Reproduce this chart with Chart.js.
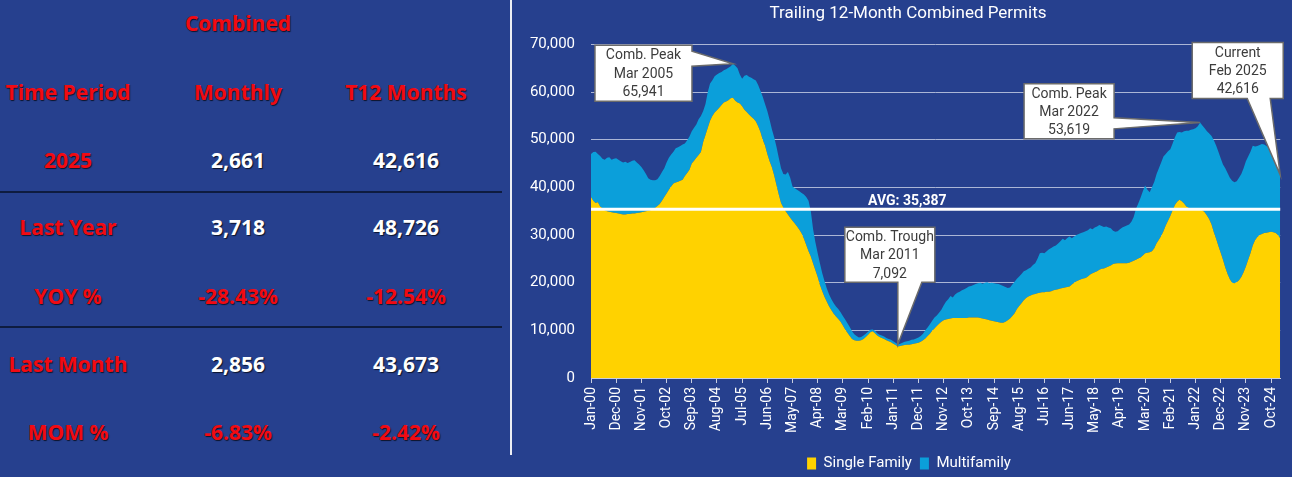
<!DOCTYPE html>
<html><head><meta charset="utf-8">
<script src="https://cdn.jsdelivr.net/npm/chart.js@4.4.1/dist/chart.umd.min.js"></script>
<style>
html,body{margin:0;padding:0;background:#26408E;width:1292px;height:477px;overflow:hidden;}
#left{position:absolute;left:0;top:0;width:510px;height:477px;font-family:'Open Sans',sans-serif;font-weight:700;}
.t{position:absolute;width:240px;text-align:center;font-size:21px;line-height:28px;text-shadow:1px 1px 1px rgba(0,0,0,.7);white-space:nowrap;}
.red{color:#F20A12;}
.white{color:#fff;}
.hline{position:absolute;left:0;width:502px;height:2px;background:#0E1C40;}
#vline{position:absolute;left:510px;top:0;width:2px;height:455px;background:#ECEEF4;}
#chartBox{position:absolute;left:512px;top:0;width:780px;height:477px;}
</style></head>
<body>
<div id="left"></div>
<div id="vline"></div>
<div id="chartBox"><canvas id="c"></canvas></div>
<script>
// ---------- data ----------
const tableTitle = 'Combined';
const tableHeaders = ['Time Period', 'Monthly', 'T12 Months'];
const tablePeriods = ['2025', 'Last Year', 'YOY %', 'Last Month', 'MOM %'];
const tableMonthly = ['2,661', '3,718', '-28.43%', '2,856', '-6.83%'];
const tableT12 = ['42,616', '48,726', '-12.54%', '43,673', '-2.42%'];

const chartTitle = 'Trailing 12-Month Combined Permits';
const monthNames = ['Jan','Feb','Mar','Apr','May','Jun','Jul','Aug','Sep','Oct','Nov','Dec'];
const startYear = 2000;
const tickEvery = 11;
const averageValue = 35387;
const avgLabel = 'AVG: ';

const singleFamily = [
38000,37200,36700,36900,36000,35600,35200,35000,34900,34800,34700,34600,
34500,34400,34300,34300,34400,34400,34500,34500,34600,34700,34800,34900,
35000,35100,35200,35400,35700,36100,36500,37200,38000,38700,39500,40200,
40800,41000,41200,41400,41600,42400,43000,43700,45000,45600,46200,46800,
47400,49500,51000,52500,54000,55000,55700,56200,56700,57300,57800,58000,
58300,58700,58800,58200,57800,57600,57000,56300,55800,55300,54800,54400,
53800,52800,51600,50000,48800,47000,45500,44200,42500,40500,38500,36700,
35800,35000,34300,33600,33000,32400,31800,31100,30300,29200,27900,26600,
25500,24000,22600,21200,19500,18200,17000,16000,15000,14200,13500,12900,
12400,11800,11000,10200,9500,8800,8200,7900,7800,7800,7900,8200,
8600,9100,9600,9800,9400,8900,8600,8400,8200,7900,7700,7500,
7200,6900,6600,6700,6800,6900,7000,7000,7100,7200,7300,7400,
7600,7900,8300,8800,9300,9900,10400,10900,11400,11800,12100,12300,
12400,12500,12600,12600,12600,12600,12600,12600,12600,12700,12700,12700,
12700,12700,12600,12500,12400,12300,12100,12000,11900,11800,11700,11600,
11600,11800,12100,12500,13000,13600,14500,15100,15700,16300,16800,17100,
17300,17500,17600,17800,17900,18000,18000,18100,18100,18200,18400,18500,
18600,18800,18900,19000,19100,19200,19600,20000,20300,20500,20700,20900,
21000,21300,21700,22000,22200,22400,22700,22900,23000,23200,23400,23600,
23900,24000,24100,24100,24100,24100,24100,24200,24400,24600,24800,25100,
25300,25700,26200,26300,26400,26600,27200,28300,29000,29800,30800,32000,
33000,34000,35200,36300,37000,37400,37100,36600,36000,35700,35500,35400,
35300,35300,35400,35200,34800,34100,33300,32200,30600,29200,27700,26300,
24800,23200,21800,20700,20000,19900,20100,20500,21200,22200,23400,24800,
26200,27800,28900,29600,30000,30200,30400,30500,30600,30700,30600,30400,
30000,29300
];

const multifamily = [
9000,10200,10800,10100,10600,10400,10600,11200,11400,11000,11300,11500,
11300,11100,10900,11100,10700,10900,11100,11200,10600,10100,9500,8700,
7800,6800,6400,6100,5800,5600,5900,6000,6000,6500,6700,6700,
6700,7200,7200,7300,7400,6800,6900,7000,6800,6900,7000,7500,
7600,6500,6500,7500,7800,7500,7600,7500,7300,6900,6800,6800,
6800,6700,7141,7300,7200,6100,5800,7100,7800,7900,8200,8300,
8600,8700,8700,9000,8700,9000,8700,8000,8000,8000,7700,7300,
7000,7700,8900,8400,7200,7400,7700,8100,8500,9300,10100,10600,
9500,7200,5900,5000,4500,3800,3300,2800,2500,2300,2200,2100,
2100,2000,2000,2100,2000,1900,1600,1300,1000,700,700,700,
700,600,500,400,500,500,500,500,500,500,500,500,
500,500,492,500,600,700,700,800,900,900,1000,1100,
1200,1400,1700,1800,2000,2100,2300,2200,2300,2500,3100,3700,
4100,4700,4300,4900,5300,5500,5800,6000,6300,6500,6600,6800,
7000,7200,7400,7300,7600,7800,7800,8000,8000,8000,8000,7900,
7700,7300,6800,6500,6600,6600,6300,6200,6100,6100,5800,5800,
5900,6200,6500,7200,8300,8300,8200,8500,8900,9100,9200,9300,
9600,9900,10300,9900,10300,10500,9700,9700,9700,9700,9700,9700,
9800,9700,9700,9200,9400,9400,9400,9000,8700,8600,8200,7800,
7000,6700,6700,7100,7500,7700,7900,8000,8400,9200,10700,11500,
12500,13500,14200,13200,12600,13500,14000,14500,15000,15400,15700,15000,
14600,14000,14000,14200,14500,14200,14400,15200,15900,16200,16600,16800,
17100,17500,18219,17800,17600,17700,18000,18600,19300,19600,19800,19800,
20000,20800,21200,21300,21400,21200,21200,21500,21600,21800,22100,21700,
21300,20926,19700,19100,18900,18900,18600,18200,17700,16800,16000,15000,
13673,13316
];

const calloutTitles = ['Comb. Peak', 'Comb. Trough', 'Comb. Peak', 'Current'];
const calloutIndexes = [62, 134, 266, 301];

// ---------- layout (positions / styles) ----------
const calloutLayout = [
  {dx:-138, dy:-18.5, w:97, h:56, edge:'right', a:6, b:21},
  {dx:-53, dy:-117, w:90, h:55, edge:'bottom', a:53, b:77},
  {dx:-176, dy:-38.6, w:90, h:55, edge:'right', a:34, b:45},
  {dx:-88, dy:-132.4, w:91, h:56, edge:'bottom', a:55, b:78}
];

// ---------- left table ----------
(function buildTable(){
  const left = document.getElementById('left');
  const colX = [68, 238, 406];
  const rowY = [160, 227, 296, 364, 432];
  function add(text, cx, cy, cls){
    const d = document.createElement('div');
    d.className = 't ' + cls;
    d.textContent = text;
    d.style.left = (cx - 120) + 'px';
    d.style.top = (cy - 14) + 'px';
    left.appendChild(d);
  }
  add(tableTitle, colX[1], 23, 'red');
  tableHeaders.forEach((h, i) => add(h, colX[i], 92, 'red'));
  tablePeriods.forEach((p, r) => {
    add(p, colX[0], rowY[r], 'red');
    add(tableMonthly[r], colX[1], rowY[r], tableMonthly[r].includes('%') ? 'red' : 'white');
    add(tableT12[r], colX[2], rowY[r], tableT12[r].includes('%') ? 'red' : 'white');
  });
  [192, 327].forEach(y => {
    const l = document.createElement('div');
    l.className = 'hline';
    l.style.top = (y - 1) + 'px';
    left.appendChild(l);
  });
})();

// ---------- chart ----------
const categories = singleFamily.map((_, i) =>
  monthNames[i % 12] + '-' + String((startYear + Math.floor(i / 12)) % 100).padStart(2, '0'));
const fmt = v => Math.round(v).toLocaleString('en-US');

const shiftPlugin = {
  id: 'shiftBoxes',
  afterLayout(chart) {
    const t = chart.titleBlock, l = chart.legend;
    if (t) { t.left += 11; t.right += 11; }
    if (l) { l.left += 12; l.right += 12; l.top += 4; l.bottom += 4; }
  }
};

const avgPlugin = {
  id: 'avgLine',
  afterDatasetsDraw(chart) {
    const {ctx, chartArea: a, scales: {y}} = chart;
    const py = y.getPixelForValue(averageValue);
    ctx.save();
    ctx.strokeStyle = '#ffffff';
    ctx.lineWidth = 3;
    ctx.beginPath();
    ctx.moveTo(a.left, py);
    ctx.lineTo(a.right, py);
    ctx.stroke();
    ctx.fillStyle = '#ffffff';
    ctx.font = 'bold 14px Roboto';
    ctx.textAlign = 'center';
    ctx.textBaseline = 'alphabetic';
    ctx.fillText(avgLabel + fmt(averageValue), a.left + a.width * 0.459, py - 4);
    ctx.restore();
  }
};

const calloutPlugin = {
  id: 'callouts',
  afterDatasetsDraw(chart) {
    const {ctx, scales: {x, y}} = chart;
    calloutIndexes.forEach((idx, k) => {
      const L0 = calloutLayout[k];
      const total = singleFamily[idx] + multifamily[idx];
      const tx = x.getPixelForValue(idx);
      const ty = y.getPixelForValue(total);
      const L = tx + L0.dx, T = ty + L0.dy, W = L0.w, H = L0.h;
      ctx.save();
      ctx.beginPath();
      ctx.moveTo(L, T);
      ctx.lineTo(L + W, T);
      if (L0.edge === 'right') {
        ctx.lineTo(L + W, T + L0.a);
        ctx.lineTo(tx, ty);
        ctx.lineTo(L + W, T + L0.b);
      }
      ctx.lineTo(L + W, T + H);
      if (L0.edge === 'bottom') {
        ctx.lineTo(L + L0.b, T + H);
        ctx.lineTo(tx, ty);
        ctx.lineTo(L + L0.a, T + H);
      }
      ctx.lineTo(L, T + H);
      ctx.closePath();
      ctx.fillStyle = '#ffffff';
      ctx.fill();
      ctx.strokeStyle = '#6b6b6b';
      ctx.lineWidth = 1.5;
      ctx.stroke();
      const lines = [calloutTitles[k],
        monthNames[idx % 12] + ' ' + (startYear + Math.floor(idx / 12)),
        fmt(total)];
      ctx.fillStyle = '#3c3c3c';
      ctx.font = '14px Roboto';
      ctx.textAlign = 'center';
      ctx.textBaseline = 'middle';
      const lh = 18.3;
      lines.forEach((s, j) => ctx.fillText(s, L + W / 2, T + H / 2 + (j - 1) * lh + 1));
      ctx.restore();
    });
  }
};

new Chart(document.getElementById('c'), {
  type: 'line',
  data: {
    labels: categories,
    datasets: [
      {label: 'Single Family', data: singleFamily, backgroundColor: '#FFD200', borderColor: '#FFD200',
       borderWidth: 0, fill: 'origin', pointRadius: 0, tension: 0},
      {label: 'Multifamily', data: multifamily, backgroundColor: '#0B9FDA', borderColor: '#0B9FDA',
       borderWidth: 0, fill: '-1', pointRadius: 0, tension: 0}
    ]
  },
  options: {
    responsive: true,
    maintainAspectRatio: false,
    animation: false,
    events: [],
    layout: {padding: {left: 0, right: 10, top: 0, bottom: 0}},
    plugins: {
      title: {display: true, text: chartTitle, color: '#ffffff',
              font: {family: 'Roboto', size: 17, weight: 'normal'}, padding: {top: 4, bottom: 20}},
      legend: {position: 'bottom',
               labels: {color: '#ffffff', font: {family: 'Roboto', size: 15}, boxWidth: 9, boxHeight: 12, padding: 8}},
      tooltip: {enabled: false}
    },
    scales: {
      x: {
        ticks: {autoSkip: false, maxRotation: 90, minRotation: 90, color: '#ffffff',
                font: {family: 'Roboto', size: 14}, padding: 4,
                callback: (v, i) => (i % tickEvery === 0 ? categories[i] : null)},
        grid: {drawOnChartArea: false, drawTicks: true, tickLength: 5, color: '#C9CEDF'},
        border: {display: true, color: '#C9CEDF', width: 1},
        afterFit(s) { s.height = 66; }
      },
      y: {
        stacked: true, min: 0, max: 70000,
        ticks: {stepSize: 10000, color: '#ffffff', font: {family: 'Roboto', size: 15}, padding: 16,
                callback: v => fmt(v)},
        grid: {color: 'rgba(205,211,232,0.8)', lineWidth: 1, drawTicks: false},
        border: {display: false},
        afterFit(s) { s.width = 79; }
      }
    }
  },
  plugins: [shiftPlugin, avgPlugin, calloutPlugin]
});
</script>
</body></html>
